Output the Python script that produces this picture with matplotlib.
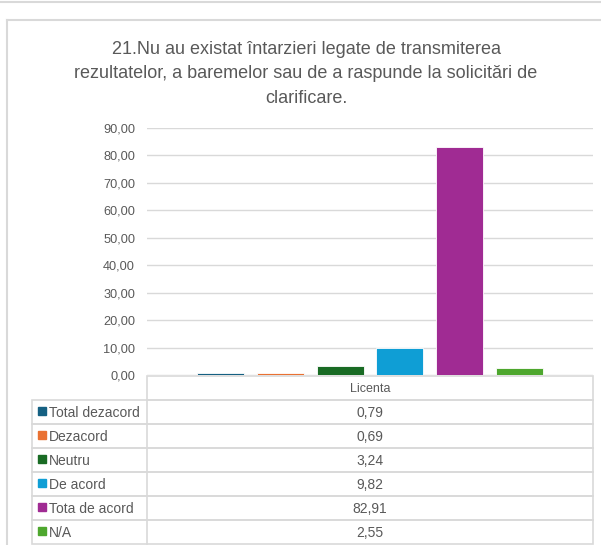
import matplotlib
matplotlib.use("Agg")
import matplotlib.pyplot as plt
from matplotlib.patches import Rectangle
from matplotlib.lines import Line2D

plt.rcParams['font.family'] = ['Liberation Sans', 'DejaVu Sans']

title = "21.Nu au existat întarzieri legate de transmiterea\nrezultatelor, a baremelor sau de a raspunde la solicitări de\nclarificare."
categories = ["Total dezacord", "Dezacord", "Neutru", "De acord", "Tota de acord", "N/A"]
values = [0.79, 0.69, 3.24, 9.82, 82.91, 2.55]
colors = ["#156082", "#E97132", "#196B24", "#0F9ED5", "#A02B93", "#4EA72E"]
group_label = "Licenta"
yticks = [0, 10, 20, 30, 40, 50, 60, 70, 80, 90]

W, H = 601, 545
fig = plt.figure(figsize=(W / 100, H / 100), dpi=100)

def fx(px):
    return px / W

def fy(py):
    return 1 - py / H

grid_c = "#D9D9D9"
text_c = "#595959"

# outer boxes
fig.add_artist(Line2D([0, 1], [fy(2), fy(2)], color=grid_c, lw=1.5, transform=fig.transFigure))
fig.add_artist(Line2D([fx(7), fx(7)], [fy(20), 0], color=grid_c, lw=1.5, transform=fig.transFigure))
fig.add_artist(Line2D([fx(7), 1], [fy(20), fy(20)], color=grid_c, lw=1.5, transform=fig.transFigure))

fig.text(fx(306), fy(74), title, ha="center", va="center", fontsize=13,
         color=text_c, linespacing=1.6)

left, right = 147, 593
top, bottom = 128, 375
ax = fig.add_axes([fx(left), fy(bottom), fx(right) - fx(left), fy(top) - fy(bottom)])
x = list(range(len(values)))
ax.bar(x, values, width=0.79, color=colors, edgecolor="white", linewidth=0.6, zorder=3)
ax.set_xlim(-1.24, 6.24)
ax.set_ylim(0, 90)
ax.set_yticks(yticks)
ax.set_yticklabels([f"{v:.2f}".replace(".", ",") for v in yticks], color=text_c, fontsize=9.2)
ax.tick_params(axis="y", length=0, pad=8.6)
ax.set_xticks([])
ax.grid(axis="y", color=grid_c, lw=1, zorder=0)
for s in ax.spines.values():
    s.set_visible(False)

# data table
row_h = 24
t_top = 376
col_left, col_mid, col_right = 32, 147, 593
n = len(categories)
lw = 1.2
fig.add_artist(Rectangle((fx(col_mid), fy(t_top + row_h)), fx(col_right) - fx(col_mid),
                         fy(t_top) - fy(t_top + row_h), fill=False, ec=grid_c, lw=lw,
                         transform=fig.transFigure))
fig.text(fx((col_mid + col_right) / 2), fy(t_top + row_h / 2 + 4), group_label, ha="center",
         va="baseline", fontsize=9, color=text_c)
for i, (cat, val, c) in enumerate(zip(categories, values, colors)):
    y0 = t_top + row_h * (i + 1)
    fig.add_artist(Rectangle((fx(col_left), fy(y0 + row_h)), fx(col_right) - fx(col_left),
                             fy(y0) - fy(y0 + row_h), fill=False, ec=grid_c, lw=lw,
                             transform=fig.transFigure))
    fig.add_artist(Line2D([fx(col_mid), fx(col_mid)], [fy(y0), fy(y0 + row_h)], color=grid_c,
                          lw=lw, transform=fig.transFigure))
    fig.add_artist(Rectangle((fx(38), fy(y0 + row_h / 2 + 3)), fx(8), 8 / H, color=c,
                             transform=fig.transFigure))
    fig.text(fx(49), fy(y0 + row_h / 2 + 5), cat, ha="left", va="baseline", fontsize=10,
             color=text_c)
    fig.text(fx((col_mid + col_right) / 2), fy(y0 + row_h / 2 + 5),
             f"{val:.2f}".replace(".", ","), ha="center", va="baseline", fontsize=10, color=text_c)

fig.savefig("out.png", dpi=100)
